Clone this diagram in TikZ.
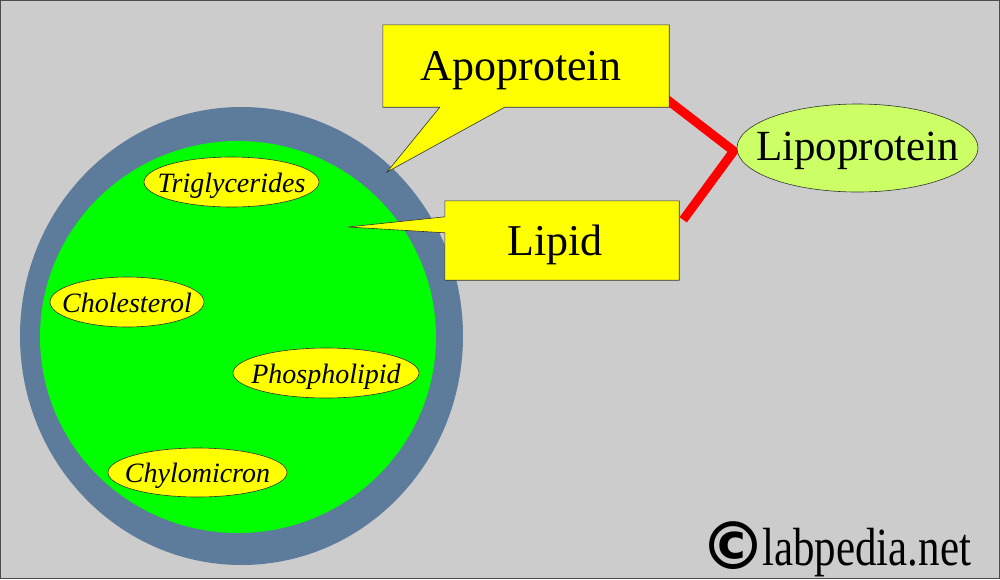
\documentclass[tikz,border=0pt]{standalone}
\usepackage{fontspec}
\setmainfont{Liberation Serif}
\newfontfamily\symfont{DejaVu Sans}
\usetikzlibrary{shapes.geometric,calc}
\definecolor{bgc}{HTML}{CCCCCC}
\definecolor{ringc}{HTML}{5D7B9A}
\definecolor{corec}{HTML}{00FF00}
\definecolor{boxc}{HTML}{FFFF00}
\definecolor{lipoc}{HTML}{CCFF66}
\definecolor{linec}{HTML}{FF0000}
\pgfdeclarelayer{back}
\pgfdeclarelayer{mid}
\pgfsetlayers{back,mid,main}
\newcommand{\centxt}[2]{\smash{\raisebox{-#1}{\makebox[0pt]{#2}}}}
\tikzset{
  lbl/.style={ellipse, fill=boxc, draw=black!80, line width=0.6pt, inner sep=0pt,
    font=\fontsize{28}{30}\selectfont\itshape},
  callbox/.style={inner sep=0pt, font=\fontsize{44}{48}\selectfont, text depth=0pt},
  callout/.style={fill=boxc, draw=black!80, line width=0.6pt, line join=miter},
  connector/.style={linec, line width=9pt},
}
\begin{document}
\begin{tikzpicture}[x=1pt,y=-1pt]
\useasboundingbox (0,0) rectangle (1000,579);
\begin{pgfonlayer}{back}
\fill[bgc] (0,0) rectangle (1000,579);
\draw[black!70, line width=1.2pt] (0.6,0.6) rectangle (999.4,578.4);
% particle
\node[ellipse, fill=ringc, inner sep=0pt, minimum width=443pt, minimum height=458pt] (ring) at (241.5,336) {};
\node[ellipse, fill=corec, inner sep=0pt, minimum width=396pt, minimum height=392pt] (core) at (238,337) {};
\node[lbl, minimum width=175pt, minimum height=50pt] (tri) at (231.5,182) {\centxt{10pt}{Triglycerides}};
\node[lbl, minimum width=154pt, minimum height=50pt] (chol) at (127,302) {\centxt{10pt}{Cholesterol}};
\node[lbl, minimum width=186pt, minimum height=50pt] (phos) at (326,373) {\centxt{10pt}{Phospholipid}};
\node[lbl, minimum width=179pt, minimum height=49pt] (chyl) at (197.5,472.5) {\centxt{10pt}{Chylomicron}};
\end{pgfonlayer}
% callouts
\node[callbox, minimum width=286pt, minimum height=82pt] (apo) at (526,66) {Apoprotein\hspace*{10pt}};
\coordinate (aptip) at (387,172);
\node[callbox, minimum width=234pt, minimum height=79pt] (lipid) at (562,240.5) {Lipid\hspace*{14pt}};
\coordinate (liptip) at (348,227);
\begin{pgfonlayer}{mid}
\draw[callout] (apo.north west) -- (apo.north east) -- (apo.south east)
  -- ($(apo.south west)+(122,0)$) -- (aptip) -- ($(apo.south west)+(57,0)$)
  -- (apo.south west) -- cycle;
\draw[callout] (lipid.north west) -- (lipid.north east) -- (lipid.south east)
  -- (lipid.south west) -- ($(lipid.north west)+(0,32)$) -- (liptip)
  -- ($(lipid.north west)+(0,16)$) -- cycle;
\end{pgfonlayer}
\node[ellipse, fill=lipoc, draw=black!80, line width=0.6pt, inner sep=0pt,
  minimum width=241pt, minimum height=88pt, font=\fontsize{43}{46}\selectfont]
  (lipo) at (857.5,148) {\centxt{12pt}{Lipoprotein}};
\begin{pgfonlayer}{back}
\draw[connector] ($(apo.south east)+(-4,-9)$) -- ($(lipo.west)+(-3,3)$) -- ($(lipid.north east)+(4,19)$);
\end{pgfonlayer}
% copyright
\node[anchor=center, inner sep=0pt, font=\symfont\bfseries\fontsize{66}{66}\selectfont] (copy) at (733.5,546) {©};
\node[anchor=base west, inner sep=0pt, font=\fontsize{43}{46}\selectfont] (site) at (762,565) {\scalebox{1}[1.25]{labpedia.net}};
\end{tikzpicture}
\end{document}
